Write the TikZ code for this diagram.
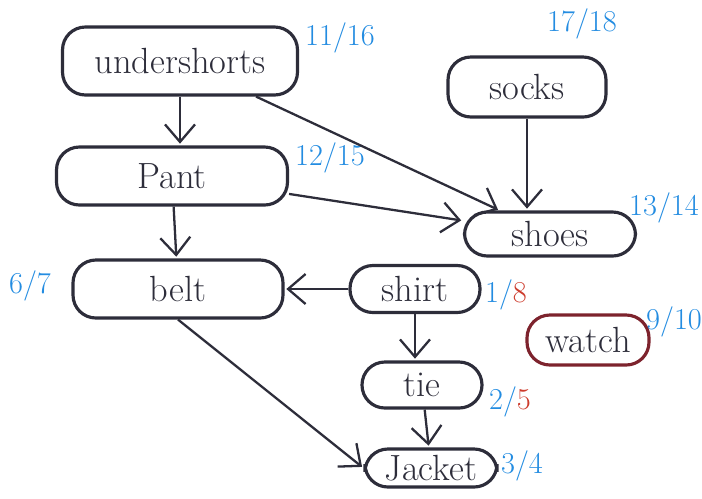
\documentclass[tikz,border=0pt]{standalone}
\usetikzlibrary{arrows.meta}
\definecolor{inkblue}{RGB}{35,140,225}
\definecolor{inkred}{RGB}{205,60,45}
\definecolor{pen}{RGB}{45,45,58}
\definecolor{wine}{RGB}{125,35,45}

\begin{document}
\begin{tikzpicture}[x=0.02cm,y=-0.02cm,>={Straight Barb[length=3.5mm,width=6mm]},
  shorten >=1pt,color=pen,line width=1.3pt,
  garment/.style={draw,line width=1.8pt,rounded corners=13pt,font=\huge,inner sep=0pt},
  stamp/.style={text=inkblue,font=\LARGE}]

\useasboundingbox (0,0) rectangle (702,498);

% define the garments
  \node[garment,minimum width=4.7cm,minimum height=1.36cm]  (undershorts) at (180,61)
{undershorts};
  \node[garment,minimum width=4.62cm,minimum height=1.16cm] (Pant)        at (172,176)
{Pant};
  \node[garment,minimum width=3.16cm,minimum height=1.2cm]  (socks)       at (527,87)
{socks};
  \node[garment,minimum width=3.42cm,minimum height=0.88cm] (shoes)       at (550,234)
{shoes};
  \node[garment,minimum width=4.2cm,minimum height=1.16cm]  (belt)        at (178,289)
{belt};
  \node[garment,minimum width=2.6cm,minimum height=0.94cm]  (shirt)       at (415,289)
{shirt};
  \node[garment,draw=wine,minimum width=2.44cm,minimum height=1.0cm] (watch) at (588,340)
{watch};
  \node[garment,minimum width=2.4cm,minimum height=0.92cm]  (tie)         at (422,385)
{tie};
  \node[garment,minimum width=2.64cm,minimum height=0.76cm] (Jacket)      at (431,468)
{Jacket};

% define the start/finish times
  \node[stamp] (tUndershorts) at (340,38)  {11/16};
  \node[stamp] (tPant)        at (330,158) {12/15};
  \node[stamp] (tSocks)       at (582,24)  {17/18};
  \node[stamp] (tShoes)       at (664,208) {13/14};
  \node[stamp] (tBelt)        at (30,286)  {6/7};
  \node[stamp] (tShirt)       at (506,295) {1/{\color{inkred}8}};
  \node[stamp] (tWatch)       at (674,322) {9/10};
  \node[stamp] (tTie)         at (510,402) {2/{\color{inkred}5}};
  \node[stamp] (tJacket)      at (522,466) {3/4};

% define the links
  \path[->] (undershorts) edge (Pant.north -| undershorts)
                          edge (shoes)
            (Pant)        edge (shoes)
                          edge (belt)
            (socks)       edge (shoes.north -| socks)
            (shirt)       edge (belt)
                          edge (tie.north -| shirt)
            (tie)         edge (Jacket)
            (belt.south)  edge (Jacket.west);

\end{tikzpicture}
\end{document}
